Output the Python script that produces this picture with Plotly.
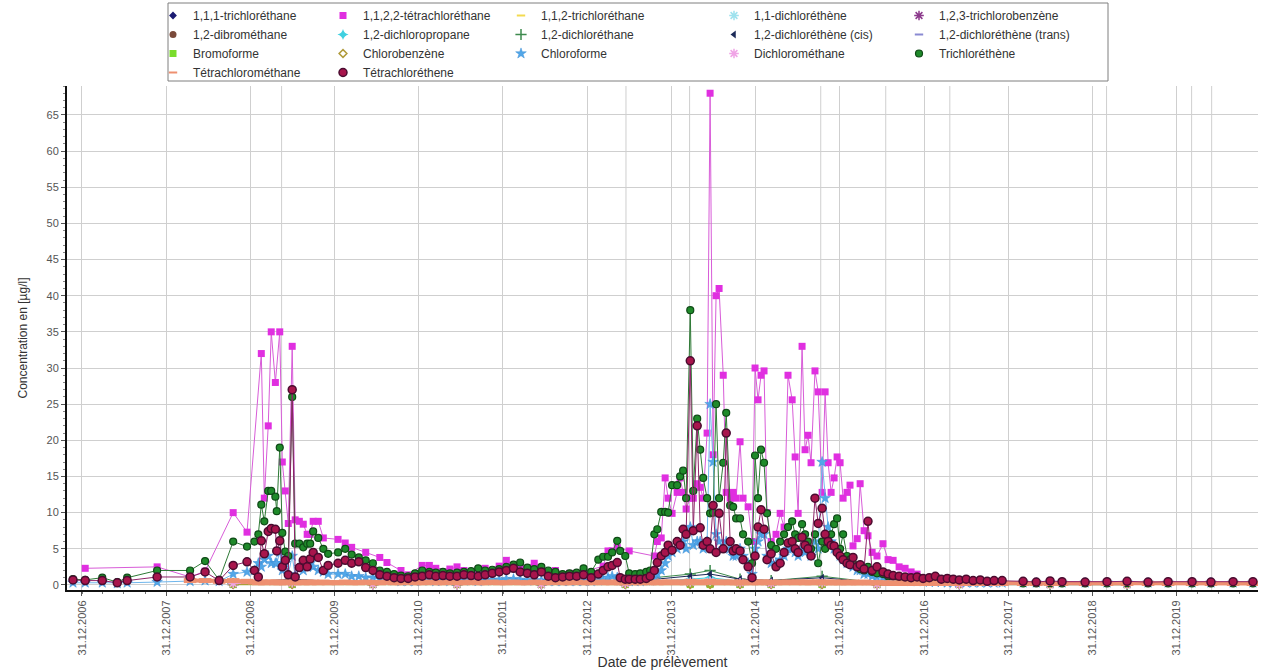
import plotly.graph_objects as go

# ---------------- sample dates (main campaign) ----------------
dates = [
    # 2006-2008
    "2006-11-22", "2007-01-14", "2007-03-29", "2007-06-02", "2007-07-15", "2007-11-22",
    "2008-04-13", "2008-06-17", "2008-08-17", "2008-10-17", "2008-12-16",
    # 2009
    "2009-01-17", "2009-02-03", "2009-02-16", "2009-03-01", "2009-03-18", "2009-03-31",
    "2009-04-18", "2009-04-24", "2009-05-07", "2009-05-18", "2009-05-31", "2009-06-13",
    "2009-06-30", "2009-07-13", "2009-07-31", "2009-08-17", "2009-09-03", "2009-09-16",
    "2009-09-29", "2009-10-21", "2009-11-12", "2009-12-03",
    # 2010-2012
    "2010-01-15", "2010-02-15", "2010-03-15", "2010-04-15", "2010-05-15", "2010-06-15",
    "2010-07-15", "2010-08-15", "2010-09-15", "2010-10-15", "2010-11-15", "2010-12-15",
    "2011-01-15", "2011-02-15", "2011-03-15", "2011-04-15", "2011-05-15", "2011-06-15",
    "2011-07-15", "2011-08-15", "2011-09-15", "2011-10-15", "2011-11-15", "2011-12-15",
    "2012-01-15", "2012-02-15", "2012-03-15", "2012-04-15", "2012-05-15", "2012-06-15",
    "2012-07-15", "2012-08-15", "2012-09-15", "2012-10-15", "2012-11-15", "2012-12-15",
    # 2013
    "2013-01-17", "2013-02-17", "2013-03-10", "2013-03-31", "2013-04-18", "2013-05-10",
    "2013-05-23", "2013-06-14", "2013-07-01", "2013-07-27", "2013-08-18", "2013-09-13",
    "2013-09-30", "2013-10-18", "2013-10-31", "2013-11-17", "2013-12-04", "2013-12-17",
    # 2014
    "2014-01-03", "2014-01-25", "2014-02-07", "2014-02-20", "2014-03-05", "2014-03-23",
    "2014-04-05", "2014-04-22", "2014-05-05", "2014-05-18", "2014-06-04", "2014-06-17",
    "2014-06-30", "2014-07-13", "2014-07-26", "2014-08-13", "2014-08-26", "2014-09-12",
    "2014-09-25", "2014-10-08", "2014-10-25", "2014-11-07", "2014-11-29", "2014-12-16",
    # 2015
    "2014-12-29", "2015-01-11", "2015-01-24", "2015-02-06", "2015-02-19", "2015-03-09",
    "2015-03-30", "2015-04-17", "2015-05-04", "2015-05-21", "2015-06-08", "2015-06-21",
    "2015-07-04", "2015-07-21", "2015-08-03", "2015-08-16", "2015-08-29", "2015-09-15",
    "2015-09-29", "2015-10-16", "2015-10-29", "2015-11-11", "2015-11-24", "2015-12-07",
    "2015-12-20",
    # 2016
    "2016-01-02", "2016-01-15", "2016-02-01", "2016-02-14", "2016-02-27", "2016-03-16",
    "2016-03-29", "2016-04-15", "2016-05-02", "2016-05-20", "2016-06-10", "2016-07-06",
    "2016-07-28", "2016-08-19", "2016-09-14", "2016-10-10", "2016-11-05", "2016-12-01",
    "2016-12-27",
    # 2017
    "2017-01-23", "2017-02-18", "2017-03-16", "2017-04-11", "2017-05-07", "2017-06-02",
    "2017-07-02", "2017-08-01", "2017-09-01", "2017-10-01", "2017-10-31", "2017-12-05",
    # 2018-2020
    "2018-03-06", "2018-05-02", "2018-07-01", "2018-08-22", "2018-11-30", "2019-03-05",
    "2019-05-31", "2019-08-30", "2019-11-25", "2020-03-08", "2020-05-29", "2020-09-02",
    "2020-11-27",
]

# Tétrachloréthene
tetrachlorethene = [
    0.7, 0.6, 0.6, 0.3, 0.6, 1.1, 1.1, 1.8, 0.6, 2.7, 3.2,
    2.0, 1.1, 6.1, 4.3, 7.4, 7.8, 7.7, 4.7, 6.1, 2.5, 3.4, 1.4, 27.0, 1.1, 2.4, 3.4, 2.5, 3.6, 4.5, 3.8, 2.0, 2.7,
    3.0, 3.4, 3.0, 3.2, 2.4, 2.0, 1.4, 1.2, 1.0, 0.9, 0.9, 1.1,
    1.2, 1.4, 1.2, 1.3, 1.2, 1.2, 1.4, 1.3, 1.2, 1.4, 1.6, 1.8,
    2.0, 2.3, 1.8, 1.6, 1.4, 1.8, 1.2, 1.0, 1.1, 1.2, 1.2, 1.4,
    1.0, 1.5, 2.0, 2.5, 2.7, 3.1, 1.0, 0.8, 0.8, 0.8, 0.8, 0.9, 1.2, 2.0, 3.1, 4.0, 4.5, 5.5,
    4.8, 6.0, 5.5, 7.7, 7.0, 31.0, 7.5, 22.0, 7.9, 5.5, 6.0, 5.0, 11.0, 4.5, 9.9, 5.0, 21.0, 6.0,
    4.7, 5.0, 4.7, 3.5, 2.5, 1.0,
    4.0, 8.0, 10.4, 7.7, 3.5, 4.3, 2.5, 3.0, 4.5, 5.8, 6.0, 5.0, 4.5, 6.6, 5.5, 5.0, 4.0, 12.0,
    8.5, 10.6, 7.0, 6.0, 5.5, 5.4, 4.5,
    4.0, 3.5, 3.0, 2.8, 3.8, 2.5, 2.8, 2.2, 8.8, 2.0, 2.5, 1.8, 1.5, 1.3, 1.2, 1.1, 1.0, 1.1, 0.9,
    1.0, 1.2, 0.8, 0.9, 0.8, 0.7, 0.8, 0.6, 0.7, 0.5, 0.6, 0.6,
    0.5, 0.4, 0.55, 0.45, 0.4, 0.45, 0.5, 0.4, 0.45, 0.45, 0.4, 0.45, 0.45,
]

# Trichloréthène
trichlorethene = [
    0.8, 0.7, 1.0, 0.4, 1.0, 2.0, 2.0, 3.3, 0.7, 6.0, 5.3,
    6.0, 7.0, 11.1, 8.8, 13.0, 13.0, 12.2, 10.2, 19.0, 7.2, 4.6, 4.0, 26.0, 5.7, 5.7, 5.2, 5.7, 5.7, 7.4, 6.5, 5.0, 4.3,
    4.5, 5.0, 4.2, 3.8, 3.4, 3.0, 2.0, 1.8, 1.5, 1.3, 1.2, 1.6,
    2.0, 1.8, 1.7, 1.8, 1.6, 1.7, 1.8, 1.9, 2.3, 2.0, 2.1, 2.2,
    2.5, 2.8, 3.1, 2.4, 2.2, 2.5, 2.0, 1.8, 1.5, 1.6, 1.7, 2.3,
    1.8, 3.5, 3.9, 3.9, 4.5, 6.1, 4.7, 4.0, 1.6, 1.5, 1.6, 1.8, 2.0, 7.0, 7.7, 10.1, 10.1, 10.0,
    13.8, 13.8, 15.0, 15.8, 12.0, 38.0, 13.0, 23.0, 18.7, 14.8, 12.0, 9.9, 10.0, 25.0, 12.0, 16.9,
    23.8, 11.0, 10.8, 9.2, 9.2, 7.0, 6.0, 3.0,
    17.9, 12.0, 18.7, 16.9, 9.9, 5.5, 5.0, 6.0, 7.0, 8.0, 8.8, 7.0, 6.5, 8.4, 7.0, 6.0, 5.0, 7.0,
    3.0, 6.0, 5.0, 6.0, 7.0, 8.4, 9.2,
    5.0, 7.0, 4.0, 3.5, 3.0, 2.5, 2.2, 2.0, 2.5, 1.8, 1.6, 1.5, 1.2, 1.2, 1.0, 1.0, 0.9, 0.9, 0.8,
    0.8, 0.9, 0.7, 0.8, 0.7, 0.6, 0.6, 0.5, 0.6, 0.5, 0.5, 0.4,
    0.2, 0.2, 0.25, 0.2, 0.2, 0.2, 0.25, 0.2, 0.2, 0.2, 0.2, 0.2, 0.2,
]

# 1,1,2,2-tétrachloréthane
tetrachlorethane_1122 = [
    None, 2.3, None, None, None, 2.5, 1.1, 1.9, None, 10.0, 7.3,
    None, None, 32.0, 12.0, 22.0, 35.0, 28.0, None, 35.0, 17.0, 13.0, 8.5, 33.0, 9.0, 8.8, 8.4, 7.0, 7.0,
    8.8, 8.8, 6.5, None,
    6.3, 5.8, 5.2, None, 4.5, None, 3.8, 3.1, None, 2.0, 1.4, None,
    2.7, 2.7, 2.3, None, 2.2, 2.5, 2.0, None, 2.1, 2.3, None, 2.6,
    3.4, None, 2.4, None, 3.0, 2.4, None, 2.0, None, 1.6, None, 1.8,
    None, None, 2.6, 4.7, 4.7, 5.2, None, None, 4.7, None, None, None, None, 4.0, 6.0, 6.5, 14.8, 12.0,
    9.9, 12.8, 14.8, 12.8, 10.5, 12.0, 12.0, 14.0, 13.5, 12.0, 21.0, 68.0, 18.0, 40.0, 41.0, 29.0,
    12.8, 12.0, 12.8, 12.0, 19.8, 12.0, 10.8, 6.0,
    30.0, 25.6, 29.0, 29.6, 10.0, 6.0, 7.0, 9.9, 8.0, 29.0, 25.6, 17.7, 9.9, 33.0, 18.7, 20.7, 16.9,
    29.6, 26.7, 12.8, 26.7, 16.9, 12.8, 14.8, 17.7,
    16.9, 12.0, 12.8, 13.8, 5.4, 6.4, 14.0, 7.5, 6.8, 4.5, 4.0, 5.7, 3.5, 3.4, 2.5, 2.3, 1.8, 1.5, None,
    None, None, None, None, None, None, None, None, None, None, None, None,
    None, None, None, None, None, None, None, None, None, None, None, None, None,
]

# Chloroforme
chloroforme = [
    0.3, 0.3, 0.3, 0.2, 0.3, 0.4, 0.5, 0.6, 0.5, 1.5, 1.8,
    2.0, 3.0, 2.5, 3.5, 4.0, 3.0, 3.0, 3.0, 4.5, 2.0, 3.0, 1.5, 4.0, 1.2, 2.5, 2.0, 2.5, 3.0, 2.5, 2.0, 1.8, 1.5,
    1.5, 1.5, 1.2, 1.2, 1.0, 1.0, 0.8, 0.7, 0.6, 0.5, 0.5, 0.5,
    0.6, 0.6, 0.5, 0.6, 0.5, 0.6, 0.6, 0.6, 0.5, 0.6, 0.7, 0.7,
    0.8, 0.8, 0.7, 0.6, 0.6, 0.6, 0.5, 0.5, 0.5, 0.5, 0.5, 0.5,
    0.5, 0.6, 0.7, 1.0, 1.2, 1.0, 0.6, 0.5, 0.5, 0.5, 0.5, 0.6, 0.6, 1.0, 1.5, 2.0, 3.0, 4.0,
    4.5, 5.0, 5.5, 6.0, 5.0, 8.0, 5.5, 6.0, 6.0, 5.0, 6.0, 25.0, 17.0, 7.0, 6.0, 5.0, 6.0, 5.0,
    4.0, 4.0, 5.0, 4.0, 3.0, 1.5,
    5.0, 6.0, 7.0, 7.0, 4.0, 3.0, 3.0, 3.5, 4.0, 5.0, 5.0, 4.5, 4.0, 5.0, 4.5, 5.0, 4.0, 6.0,
    5.0, 17.0, 12.0, 8.0, 6.0, 5.0, 5.0,
    4.0, 3.5, 3.0, 3.0, 2.5, 2.0, 2.0, 1.5, 1.5, 1.2, 1.0, 1.0, 0.8, 0.8, 0.6, 0.6, 0.5, 0.5, 0.5,
    0.4, 0.4, 0.4, 0.3, 0.3, 0.3, 0.3, 0.3, 0.3, 0.3, 0.3, 0.3,
    0.3, 0.3, 0.3, 0.3, 0.3, 0.3, 0.3, 0.3, 0.3, 0.3, 0.3, 0.3, 0.3,
]

# Tétrachlorométhane
tetrachloromethane = [
    None, None, None, None, None, None, 0.6, 0.6, 0.5, 0.6, 0.5,
    0.4, 0.3, 0.4, 0.3, 0.4, 0.4, 0.3, 0.4, 0.3, 0.4, 0.3, 0.4, 0.4, 0.3, 0.4, 0.3, 0.4, 0.3, 0.4, 0.3, 0.4, 0.3,
    0.3, 0.4, 0.3, 0.3, 0.4, 0.3, 0.3, 0.4, 0.3, 0.3, 0.4, 0.3,
    0.3, 0.4, 0.3, 0.3, 0.4, 0.3, 0.3, 0.4, 0.3, 0.3, 0.4, 0.3,
    0.3, 0.4, 0.3, 0.3, 0.4, 0.3, 0.3, 0.4, 0.3, 0.3, 0.4, 0.3,
    0.3, 0.4, 0.3, 0.4, 0.3, 0.4, 0.3, 0.3, 0.4, 0.3, 0.3, 0.4, 0.3, 0.4, 0.3, 0.4, 0.3, 0.4,
    0.4, 0.3, 0.4, 0.4, 0.3, 0.5, 0.4, 0.4, 0.3, 0.4, 0.4, 0.5, 0.4, 0.4, 0.3, 0.4, 0.4, 0.3,
    0.4, 0.3, 0.4, 0.3, 0.4, 0.3,
    0.4, 0.3, 0.4, 0.4, 0.3, 0.4, 0.3, 0.4, 0.3, 0.4, 0.4, 0.3, 0.4, 0.4, 0.3, 0.4, 0.3, 0.4,
    0.4, 0.4, 0.3, 0.4, 0.3, 0.4, 0.3,
    0.3, 0.4, 0.3, 0.3, 0.4, 0.3, 0.3, 0.4, 0.3, 0.3, 0.3, 0.3, 0.2, 0.3, 0.2, 0.3, 0.2, 0.3, 0.2,
    0.2, 0.3, 0.2, 0.2, 0.3, 0.2, 0.2, 0.2, 0.2, 0.2, 0.2, 0.2,
    0.2, 0.2, 0.2, 0.2, 0.2, 0.2, 0.2, 0.2, 0.2, 0.2, 0.2, 0.2, 0.2,
]

# ---------------- minor compounds (near detection limit) ----------------
minor_dates = [
    "2008-10-17", "2009-06-30", "2010-06-15", "2011-06-15", "2012-06-15", "2013-06-14",
    "2014-03-23", "2014-06-17", "2014-10-25", "2015-03-09", "2015-10-16", "2016-06-10",
    "2017-06-02", "2018-07-01", "2019-05-31",
]
trichlorethane_111 = [0.1, 0.1, 0.05, 0.05, 0.05, 0.05, 0.1, 0.1, 0.05, 0.05, 0.05, 0.05, 0.05, 0.05, 0.05]
trichlorethane_112 = [0.1, 0.2, 0.1, 0.1, 0.1, 0.1, 0.2, 0.3, 0.1, 0.1, 0.1, 0.1, 0.1, 0.1, 0.1]
dichlorethene_11 = [0.2, 0.3, 0.1, 0.1, 0.1, 0.2, 0.5, 0.6, 0.3, 0.2, 0.3, 0.1, 0.1, 0.1, 0.1]
trichlorobenzene_123 = [0.1, 0.1, 0.05, 0.05, 0.05, 0.1, 0.2, 0.2, 0.1, 0.1, 0.1, 0.05, 0.05, 0.05, 0.05]
dibromethane_12 = [0.05, 0.05, 0.05, 0.05, 0.05, 0.05, 0.05, 0.05, 0.05, 0.05, 0.05, 0.05, 0.05, 0.05, 0.05]
dichloropropane_12 = [0.3, 0.5, 0.2, 0.2, 0.2, 0.3, 0.8, 1.0, 0.5, 0.4, 0.6, 0.2, 0.1, 0.1, 0.1]
dichlorethane_12 = [0.2, 0.4, 0.2, 0.2, 0.2, 0.6, 1.5, 2.0, 0.8, 0.6, 1.2, 0.3, 0.2, 0.1, 0.1]
dichlorethene_cis = [0.3, 0.8, 0.2, 0.2, 0.3, 0.4, 1.2, 1.5, 0.8, 0.6, 1.0, 0.3, 0.2, 0.2, 0.2]
dichlorethene_trans = [0.1, 0.2, 0.1, 0.1, 0.1, 0.1, 0.3, 0.4, 0.2, 0.1, 0.2, 0.1, 0.1, 0.1, 0.1]
bromoforme = [0.05, 0.05, 0.05, 0.05, 0.05, 0.05, 0.05, 0.05, 0.05, 0.05, 0.05, 0.05, 0.05, 0.05, 0.05]
chlorobenzene = [0.05, 0.05, 0.05, 0.05, 0.05, 0.05, 0.05, 0.05, 0.05, 0.05, 0.05, 0.05, 0.05, 0.05, 0.05]
dichloromethane = [0.2, 0.3, 0.1, 0.1, 0.1, 0.2, 0.4, 0.5, 0.3, 0.2, 0.3, 0.1, 0.1, 0.1, 0.1]

# ---------------- axis ticks / reference lines ----------------
tick_dates = ["2006-12-31", "2007-12-31", "2008-12-31", "2009-12-31", "2010-12-31",
              "2011-12-31", "2012-12-31", "2013-12-31", "2014-12-31", "2015-12-31",
              "2016-12-31", "2017-12-31", "2018-12-31", "2019-12-31"]
tick_labels = ["31.12.2006", "31.12.2007", "31.12.2008", "31.12.2009", "31.12.2010",
               "31.12.2011", "31.12.2012", "31.12.2013", "31.12.2014", "31.12.2015",
               "31.12.2016", "31.12.2017", "31.12.2018", "31.12.2019"]
event_dates = ["2009-05-15", "2013-06-17", "2014-03-20", "2015-10-10", "2016-07-18",
               "2017-04-22", "2019-03-03", "2020-03-06", "2020-06-01"]

n = len(dates)
for arr in (tetrachlorethene, trichlorethene, tetrachlorethane_1122, chloroforme, tetrachloromethane):
    if len(arr) != n:
        raise SystemExit(f"length mismatch {len(arr)} vs {n}")

# ---------------- styles ----------------
# (name, x, y, marker colour, line colour, symbol, size, outline colour, outline width)
series = [
    ("1,1,1-trichloréthane", minor_dates, trichlorethane_111, "#1B1B72", "#1B1B72", "diamond", 6, "#1B1B72", 0),
    ("1,1,2,2-tétrachloréthane", dates, tetrachlorethane_1122, "#E02FE0", "#D85CD8", "square", 7, "#C020C0", 0),
    ("1,1,2-trichloréthane", minor_dates, trichlorethane_112, "#F3DA50", "#F3DA50", "line-ew", 8, "#F3DA50", 2.5),
    ("1,1-dichloréthène", minor_dates, dichlorethene_11, "#9FE2EE", "#9FE2EE", "asterisk", 8, "#9FE2EE", 1.5),
    ("1,2,3-trichlorobenzène", minor_dates, trichlorobenzene_123, "#8C3A8C", "#8C3A8C", "asterisk", 8, "#8C3A8C", 1.5),
    ("1,2-dibrométhane", minor_dates, dibromethane_12, "#7A4A3A", "#7A4A3A", "circle", 7, "#5A3428", 0),
    ("1,2-dichloropropane", minor_dates, dichloropropane_12, "#3FD0E0", "#3FD0E0", "star-diamond", 8, "#3FD0E0", 0),
    ("1,2-dichloréthane", minor_dates, dichlorethane_12, "#3E8A4E", "#3E8A4E", "cross-thin", 8, "#3E8A4E", 1.5),
    ("1,2-dichloréthène (cis)", minor_dates, dichlorethene_cis, "#1C2A58", "#1C2A58", "triangle-left", 7, "#1C2A58", 0),
    ("1,2-dichloréthène (trans)", minor_dates, dichlorethene_trans, "#8A8AD2", "#8A8AD2", "line-ew", 8, "#8A8AD2", 2.5),
    ("Bromoforme", minor_dates, bromoforme, "#7ADC2C", "#7ADC2C", "square", 7, "#7ADC2C", 0),
    ("Chlorobenzène", minor_dates, chlorobenzene, "#B09A3A", "#B09A3A", "diamond-open", 6, "#B09A3A", 1.5),
    ("Chloroforme", dates, chloroforme, "#52A7E8", "#6FB6EC", "star", 8, "#3D8FD6", 0.5),
    ("Dichlorométhane", minor_dates, dichloromethane, "#F0A4E6", "#F0A4E6", "asterisk", 8, "#F0A4E6", 1.5),
    ("Trichloréthène", dates, trichlorethene, "#1F8A2A", "#2E7A36", "circle", 7, "#0E4A16", 1.2),
    ("Tétrachlorométhane", dates, tetrachloromethane, "#EE9070", "#EE9070", "line-ew", 9, "#EE9070", 5),
    ("Tétrachloréthene", dates, tetrachlorethene, "#A8154C", "#8E2468", "circle", 8, "#4A0C30", 1.5),
]

legend_left_px = [153, 323, 501, 714, 899]
plot_left, plot_right, plot_top, plot_bottom = 67, 1258, 86, 590
plot_w = plot_right - plot_left
plot_h = plot_bottom - plot_top
legend_y = 1 + (plot_top - 1) / plot_h

fig = go.Figure()
for name, xs, ys, mcol, lcol, sym, size, ocol, ow in series:
    lw = 4 if name == "Tétrachlorométhane" else 1
    fig.add_trace(go.Scatter(
        x=xs, y=ys, mode="lines+markers", name=name, connectgaps=True,
        line=dict(color=lcol, width=lw),
        marker=dict(symbol=sym, size=size, color=mcol, line=dict(color=ocol, width=ow)),
        showlegend=False, hoverinfo="x+y+name",
    ))

for i, (name, xs, ys, mcol, lcol, sym, size, ocol, ow) in enumerate(series):
    col = i % 5
    lg = "legend" if col == 0 else f"legend{col + 1}"
    is_dash = sym == "line-ew"
    fig.add_trace(go.Scatter(
        x=[None], y=[None], mode="markers", name=name,
        marker=dict(symbol=sym, size=6 if is_dash else min(size, 8), color=mcol,
                    line=dict(color=ocol, width=2 if is_dash else min(ow, 1.5))),
        showlegend=True, legend=lg, hoverinfo="skip",
    ))

legend_font = dict(family="Liberation Sans, Arial, sans-serif", size=12, color="#333333")
legends = {}
for col, px in enumerate(legend_left_px):
    key = "legend" if col == 0 else f"legend{col + 1}"
    legends[key] = dict(
        x=(px - plot_left) / plot_w, y=legend_y, xanchor="left", yanchor="top",
        orientation="v", bgcolor="rgba(0,0,0,0)", borderwidth=0, font=legend_font,
        itemwidth=30, tracegroupgap=0, itemclick=False, itemdoubleclick=False,
    )

shapes = [
    dict(type="rect", xref="paper", yref="paper",
         x0=(168 - plot_left) / plot_w, x1=(1108 - plot_left) / plot_w,
         y0=1 + (plot_top - 81) / plot_h, y1=1 + (plot_top - 3) / plot_h,
         line=dict(color="#7F7F7F", width=1), fillcolor="rgba(0,0,0,0)", layer="above"),
]
for d in event_dates:
    shapes.append(dict(type="line", xref="x", yref="paper", x0=d, x1=d, y0=0, y1=1,
                       line=dict(color="#CFCFCF", width=1), layer="below"))

fig.update_layout(
    template="none",
    width=1267, height=670,
    margin=dict(l=plot_left, r=1267 - plot_right, t=plot_top, b=670 - plot_bottom, autoexpand=False),
    paper_bgcolor="white", plot_bgcolor="white",
    font=dict(family="Liberation Sans, Arial, sans-serif", size=11, color="#444444"),
    shapes=shapes,
    **legends,
)

fig.update_xaxes(
    type="date", range=["2006-10-27", "2020-12-19"],
    tickmode="array", tickvals=tick_dates, ticktext=tick_labels, tickangle=-90,
    tickfont=dict(size=11, color="#555555"),
    showgrid=True, gridcolor="#CFCFCF", gridwidth=1,
    showline=True, linecolor="#111111", linewidth=2, mirror=False,
    ticks="outside", ticklen=4, tickcolor="#555555",
    minor=dict(ticks="outside", ticklen=2, tickcolor="#777777", dtick="M3", tick0="2007-01-01", showgrid=False),
    zeroline=False, automargin=False,
    title=dict(text="Date de prélèvement", font=dict(size=14, color="#333333"), standoff=2),
)
fig.update_yaxes(
    range=[-0.7, 69.0], tickmode="linear", tick0=0, dtick=5,
    tickfont=dict(size=11, color="#555555"),
    showgrid=True, gridcolor="#CFCFCF", gridwidth=1,
    showline=True, linecolor="#111111", linewidth=2,
    ticks="outside", ticklen=4, tickcolor="#555555",
    minor=dict(ticks="outside", ticklen=2, tickcolor="#888888", dtick=1, showgrid=False),
    zeroline=False, automargin=False,
    title=dict(text="Concentration en [µg/l]", font=dict(size=12, color="#333333"), standoff=16),
)

fig.write_html("out.html")
